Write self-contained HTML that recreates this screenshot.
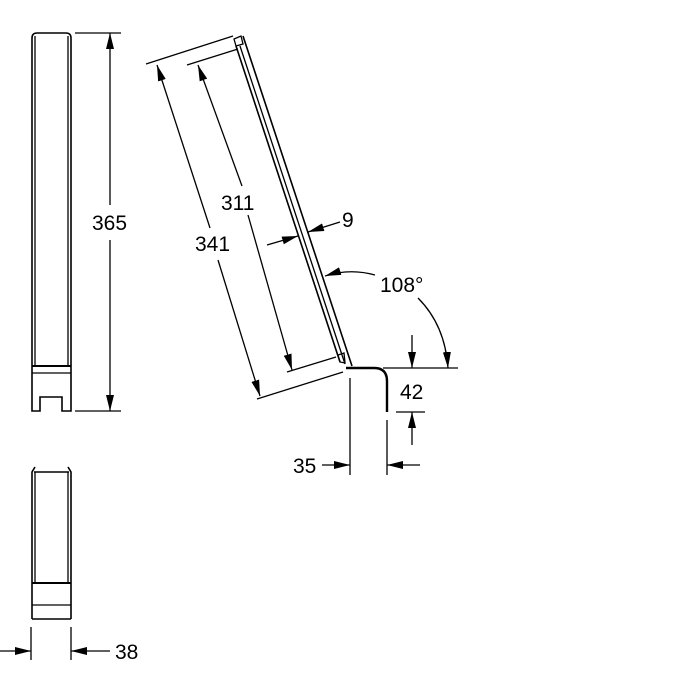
<!DOCTYPE html>
<html><head><style>body{margin:0;background:#fff}svg{display:block}text{font-family:"Liberation Sans",sans-serif;font-size:21px;fill:#000}</style></head><body>
<svg width="700" height="700" viewBox="0 0 700 700" xmlns="http://www.w3.org/2000/svg">
<defs>
<marker id="b" viewBox="0 0 16 8" refX="16" refY="4" markerWidth="16" markerHeight="8" markerUnits="userSpaceOnUse" orient="auto"><path d="M0,0L16,4L0,8z" fill="#000"/></marker>
</defs>
<g fill="none" stroke="#000" stroke-width="1.3">
<path d="M32,411V38Q32,33 37,33H66Q71,33 71,38V411H62V397H40V411Z" stroke-width="1.6"/>
<line x1="35" y1="36" x2="35" y2="365"/><line x1="68" y1="36" x2="68" y2="365"/>
<line x1="32" y1="366" x2="71" y2="366" stroke-width="2"/>
<line x1="32" y1="373" x2="71" y2="373"/>
<line x1="75" y1="33" x2="121" y2="33"/><line x1="75" y1="411" x2="121" y2="411"/>
<line x1="110" y1="205" x2="110" y2="33" marker-end="url(#b)"/>
<line x1="110" y1="240" x2="110" y2="411" marker-end="url(#b)"/>
<path d="M32,619V472L35,467M71,619V472L68,467M32,619H71" stroke-width="1.6"/>
<line x1="35" y1="472" x2="35" y2="582"/><line x1="68" y1="472" x2="68" y2="582"/>
<line x1="34" y1="472" x2="69" y2="472" stroke-width="1.6"/>
<line x1="32" y1="583" x2="71" y2="583" stroke-width="2"/>
<line x1="32" y1="605" x2="71" y2="605"/>
<line x1="31" y1="627" x2="31" y2="660"/><line x1="71" y1="627" x2="71" y2="660"/>
<line x1="0" y1="651" x2="31" y2="651" marker-end="url(#b)"/>
<line x1="110" y1="651" x2="71" y2="651" marker-end="url(#b)"/>
<line x1="243" y1="36" x2="352" y2="366" stroke-width="1.6"/>
<line x1="240" y1="46" x2="345" y2="364"/>
<line x1="236" y1="46" x2="340" y2="362" stroke-width="1.6"/>
<path d="M236,46L234,39L241,36L243,44Z"/>
<path d="M340,362L338,355L344,353L345,363Z"/>
<path d="M346,368H374Q387,368 387,381V412" stroke-width="2.4"/>
<line x1="146" y1="64" x2="233" y2="36"/><line x1="257" y1="399" x2="343" y2="372"/>
<line x1="210" y1="228" x2="157" y2="65" marker-end="url(#b)"/>
<line x1="218" y1="260" x2="260" y2="396" marker-end="url(#b)"/>
<line x1="187" y1="65" x2="238" y2="49"/><line x1="287" y1="372" x2="336" y2="357"/>
<line x1="242" y1="186" x2="198" y2="65" marker-end="url(#b)"/>
<line x1="248" y1="215" x2="292" y2="370" marker-end="url(#b)"/>
<line x1="267" y1="245" x2="298" y2="236" marker-end="url(#b)"/>
<line x1="340" y1="222" x2="308" y2="232" marker-end="url(#b)"/>
<path d="M375,275Q350,268 325,276" marker-end="url(#b)"/>
<path d="M418,298Q445,325 448,368" marker-end="url(#b)"/>
<line x1="383" y1="368" x2="458" y2="368"/>
<line x1="412" y1="335" x2="412" y2="368" marker-end="url(#b)"/>
<line x1="412" y1="445" x2="412" y2="412" marker-end="url(#b)"/>
<line x1="396" y1="412" x2="425" y2="412"/>
<line x1="350" y1="378" x2="350" y2="475"/><line x1="387" y1="420" x2="387" y2="475"/>
<line x1="322" y1="465" x2="350" y2="465" marker-end="url(#b)"/>
<line x1="420" y1="465" x2="387" y2="465" marker-end="url(#b)"/>
</g>
<text x="92" y="230">365</text>
<text x="115" y="659">38</text>
<text x="195" y="251">341</text>
<text x="221" y="210">311</text>
<text x="342" y="227">9</text>
<text x="380" y="292">108°</text>
<text x="400" y="399">42</text>
<text x="293" y="473">35</text>
</svg>
</body></html>
